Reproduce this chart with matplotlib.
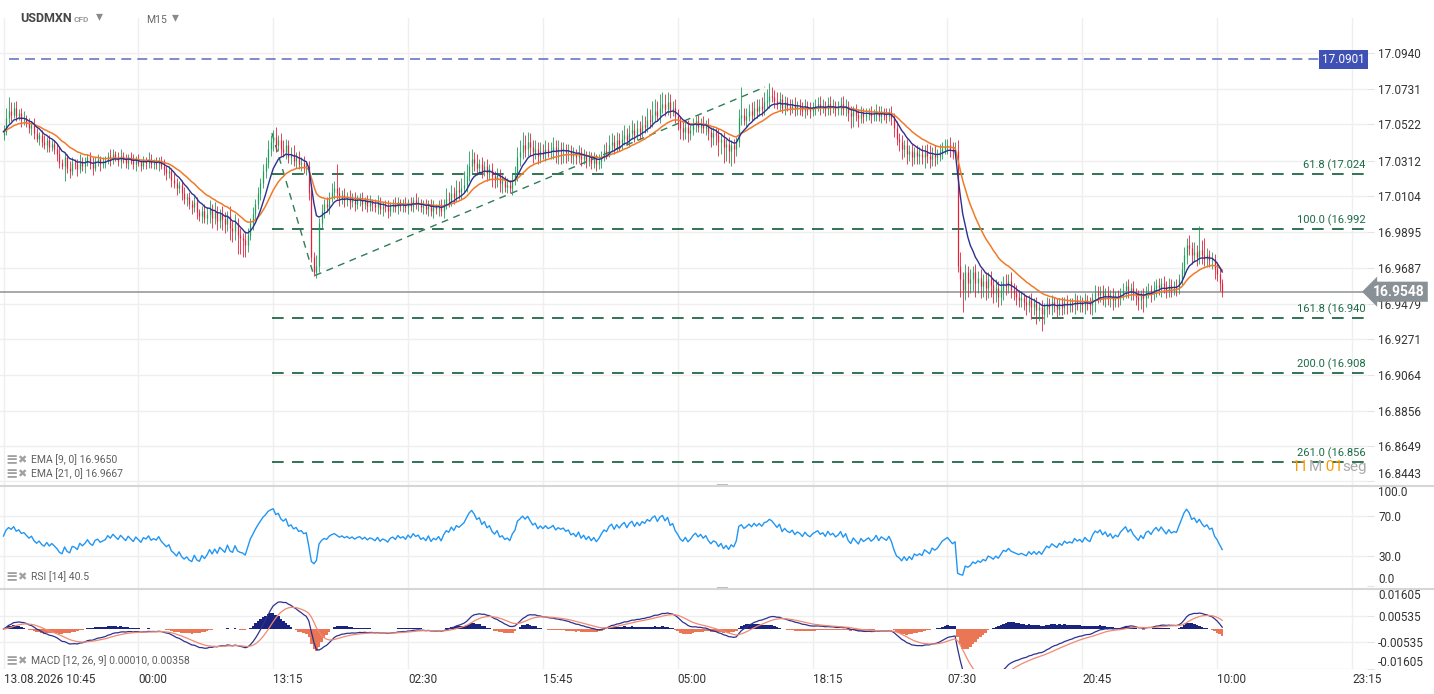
import numpy as np
import pandas as pd
import matplotlib
matplotlib.use('Agg')
import matplotlib.pyplot as plt
from matplotlib.lines import Line2D
from matplotlib.patches import Rectangle
from matplotlib.offsetbox import TextArea, HPacker, AnnotationBbox
from matplotlib.transforms import blended_transform_factory

plt.rcParams['font.family'] = ['Roboto', 'DejaVu Sans']

# USDMXN M15 candles, stored as pips (0.0001) above BASE
BASE = 16.9
close_pips = [
    1480, 1560, 1600, 1580, 1620, 1570, 1590, 1550, 1560, 1530, 1500, 1520, 1470, 1440, 1460, 1420, 1400, 1430, 1390, 1410,
    1380, 1350, 1300, 1280, 1330, 1270, 1250, 1300, 1290, 1260, 1310, 1280, 1300, 1330, 1290, 1270, 1310, 1320, 1290, 1300,
    1310, 1340, 1320, 1350, 1330, 1310, 1340, 1320, 1300, 1330, 1310, 1290, 1320, 1300, 1280, 1310, 1300, 1320, 1290, 1300,
    1290, 1310, 1280, 1260, 1240, 1250, 1200, 1180, 1150, 1170, 1120, 1090, 1100, 1060, 1040, 1070, 1010, 990, 1020, 980,
    1000, 1030, 980, 1010, 960, 1000, 970, 940, 990, 920, 900, 950, 880, 860, 850, 820, 880, 950, 1000, 1060,
    1120, 1180, 1250, 1300, 1380, 1420, 1450, 1400, 1430, 1380, 1360, 1400, 1330, 1350, 1310, 1330, 1290, 1300, 1270, 1280,
    1120, 750, 660, 700, 950, 1020, 1060, 1040, 1100, 1130, 1150, 1120, 1090, 1110, 1080, 1100, 1070, 1090, 1060, 1080,
    1090, 1060, 1080, 1050, 1070, 1060, 1040, 1070, 1030, 1050, 1040, 1020, 1050, 1060, 1040, 1070, 1050, 1060, 1040, 1070,
    1050, 1080, 1060, 1070, 1040, 1050, 1030, 1060, 1020, 1040, 1030, 1050, 1020, 1060, 1090, 1080, 1120, 1100, 1140, 1130,
    1150, 1170, 1220, 1280, 1320, 1300, 1270, 1290, 1250, 1280, 1240, 1260, 1220, 1200, 1230, 1180, 1190, 1160, 1170, 1150,
    1200, 1230, 1330, 1360, 1400, 1380, 1420, 1390, 1360, 1380, 1340, 1370, 1350, 1380, 1360, 1370, 1390, 1360, 1380, 1370,
    1380, 1360, 1370, 1340, 1350, 1330, 1360, 1320, 1340, 1310, 1330, 1300, 1320, 1290, 1310, 1340, 1370, 1360, 1400, 1420,
    1390, 1430, 1410, 1440, 1460, 1430, 1470, 1490, 1460, 1500, 1480, 1520, 1510, 1550, 1540, 1580, 1600, 1570, 1620, 1640,
    1610, 1650, 1600, 1620, 1570, 1540, 1500, 1480, 1510, 1470, 1490, 1520, 1540, 1510, 1530, 1500, 1520, 1480, 1450, 1470,
    1460, 1420, 1440, 1390, 1410, 1370, 1400, 1380, 1420, 1560, 1580, 1550, 1570, 1600, 1580, 1620, 1600, 1630, 1610, 1650,
    1660, 1690, 1680, 1660, 1640, 1670, 1620, 1650, 1630, 1620, 1640, 1610, 1630, 1620, 1600, 1630, 1610, 1600, 1620, 1630,
    1640, 1620, 1630, 1610, 1640, 1620, 1630, 1610, 1620, 1640, 1610, 1630, 1590, 1570, 1600, 1580, 1560, 1590, 1570, 1580,
    1590, 1570, 1580, 1600, 1570, 1590, 1580, 1570, 1590, 1560, 1500, 1440, 1420, 1380, 1400, 1350, 1370, 1330, 1360, 1340,
    1350, 1330, 1360, 1340, 1320, 1350, 1330, 1340, 1360, 1380, 1390, 1400, 1380, 1360, 1370, 700, 620, 560, 660, 600,
    620, 660, 600, 630, 580, 610, 570, 620, 590, 540, 570, 520, 560, 600, 580, 610, 560, 540, 520, 500,
    510, 490, 470, 500, 460, 480, 440, 460, 420, 450, 480, 460, 490, 470, 450, 480, 460, 490, 470, 480,
    470, 500, 480, 490, 470, 500, 480, 470, 510, 540, 530, 550, 520, 540, 510, 530, 500, 520, 510, 540,
    560, 580, 550, 570, 540, 520, 500, 530, 510, 550, 560, 540, 570, 590, 570, 600, 580, 560, 590, 570,
    580, 575, 620, 680, 760, 820, 800, 760, 780, 750, 790, 760, 740, 760, 730, 740, 680, 650, 600, 548,
]
up_wick = [
    40, 60, 80, 50, 30, 40, 20, 30, 40, 20, 30, 20, 40, 30, 20, 30, 40, 20, 30, 20,
    20, 30, 40, 20, 30, 20, 40, 30, 20, 30, 40, 20, 30, 20, 30, 40, 20, 30, 20, 30,
    30, 20, 40, 30, 20, 30, 40, 20, 30, 20, 30, 40, 20, 30, 20, 30, 20, 40, 30, 20,
    30, 20, 30, 40, 20, 30, 20, 40, 30, 20, 30, 40, 20, 30, 20, 40, 30, 20, 30, 40,
    40, 50, 30, 60, 40, 30, 50, 40, 30, 60, 40, 50, 30, 40, 30, 50, 40, 30, 40, 30,
    40, 30, 40, 30, 50, 40, 40, 60, 30, 40, 50, 40, 30, 40, 50, 30, 40, 30, 40, 30,
    30, 40, 30, 60, 30, 40, 30, 40, 30, 50, 40, 140, 40, 30, 40, 30, 40, 30, 40, 30,
    30, 40, 20, 30, 40, 20, 30, 40, 30, 20, 30, 40, 20, 30, 40, 30, 20, 30, 40, 20,
    30, 20, 40, 30, 20, 30, 40, 20, 30, 40, 20, 30, 40, 30, 60, 40, 50, 40, 60, 50,
    60, 80, 70, 90, 60, 40, 50, 30, 40, 30, 40, 30, 40, 30, 40, 30, 40, 30, 40, 30,
    40, 50, 60, 70, 80, 60, 60, 50, 40, 50, 40, 50, 40, 50, 40, 50, 60, 40, 50, 40,
    40, 30, 40, 30, 40, 30, 40, 30, 40, 30, 40, 30, 40, 30, 40, 30, 40, 50, 60, 50,
    40, 50, 40, 50, 60, 40, 50, 60, 40, 50, 40, 60, 50, 70, 60, 80, 70, 60, 80, 70,
    60, 60, 50, 40, 50, 40, 30, 40, 30, 40, 30, 40, 30, 40, 30, 40, 30, 40, 30, 40,
    30, 40, 30, 40, 30, 40, 30, 40, 30, 50, 160, 40, 50, 40, 50, 40, 50, 40, 50, 60,
    70, 74, 50, 40, 50, 40, 30, 40, 30, 40, 30, 40, 30, 40, 30, 40, 30, 40, 30, 40,
    40, 50, 40, 30, 40, 50, 40, 30, 40, 40, 50, 40, 30, 40, 30, 40, 30, 40, 30, 40,
    30, 40, 30, 40, 30, 40, 30, 40, 30, 40, 30, 40, 30, 40, 30, 40, 30, 40, 30, 40,
    40, 50, 40, 50, 60, 40, 50, 40, 50, 40, 50, 40, 50, 40, 50, 60, 80, 40, 50, 40,
    60, 40, 50, 40, 50, 40, 50, 40, 50, 40, 50, 40, 50, 40, 50, 40, 50, 40, 50, 40,
    40, 30, 40, 30, 40, 30, 40, 30, 40, 30, 40, 30, 40, 30, 40, 30, 40, 30, 40, 30,
    30, 40, 30, 40, 30, 40, 30, 40, 30, 50, 40, 30, 40, 30, 40, 30, 40, 30, 40, 30,
    40, 30, 40, 30, 40, 30, 40, 30, 40, 30, 40, 30, 40, 30, 40, 30, 40, 30, 40, 30,
    30, 40, 30, 40, 50, 40, 60, 40, 60, 40, 140, 60, 100, 40, 30, 40, 30, 40, 30, 20,
]
down_wick = [
    30, 20, 30, 40, 20, 30, 20, 40, 30, 20, 30, 40, 30, 20, 40, 30, 20, 40, 30, 20,
    30, 40, 30, 20, 90, 30, 40, 20, 30, 40, 20, 30, 40, 20, 30, 40, 20, 30, 40, 20,
    30, 20, 40, 30, 20, 30, 40, 20, 30, 40, 20, 30, 40, 20, 30, 20, 40, 30, 20, 30,
    30, 40, 20, 30, 40, 30, 40, 30, 40, 30, 40, 30, 40, 30, 40, 30, 40, 30, 40, 30,
    40, 50, 60, 40, 50, 40, 60, 50, 40, 70, 60, 50, 110, 90, 100, 70, 40, 30, 40, 30,
    30, 40, 30, 40, 30, 40, 50, 40, 30, 40, 30, 40, 30, 40, 30, 40, 30, 40, 30, 40,
    40, 30, 20, 30, 40, 30, 40, 30, 40, 30, 40, 30, 40, 30, 40, 30, 40, 30, 40, 30,
    30, 40, 30, 40, 30, 40, 30, 40, 30, 40, 30, 40, 30, 40, 30, 40, 30, 40, 30, 40,
    30, 40, 30, 40, 30, 40, 30, 40, 30, 40, 30, 40, 30, 40, 30, 40, 30, 40, 30, 40,
    40, 30, 40, 30, 40, 50, 40, 30, 40, 30, 50, 40, 60, 50, 40, 50, 60, 30, 40, 30,
    40, 30, 40, 50, 40, 50, 40, 50, 60, 40, 50, 40, 30, 40, 30, 40, 50, 60, 70, 80,
    70, 60, 50, 40, 50, 40, 30, 40, 30, 40, 30, 40, 30, 40, 30, 40, 30, 40, 30, 40,
    40, 30, 40, 30, 40, 30, 40, 30, 40, 30, 40, 30, 40, 30, 40, 30, 40, 30, 40, 30,
    40, 30, 40, 30, 40, 50, 60, 50, 40, 50, 40, 30, 40, 30, 40, 30, 40, 50, 60, 50,
    60, 80, 70, 90, 80, 70, 90, 80, 40, 30, 40, 30, 40, 30, 40, 30, 40, 30, 40, 30,
    30, 40, 30, 40, 30, 40, 30, 40, 30, 40, 30, 40, 30, 40, 30, 40, 30, 40, 30, 40,
    30, 40, 30, 40, 30, 40, 30, 40, 30, 40, 30, 40, 50, 70, 60, 40, 50, 30, 40, 30,
    30, 40, 30, 40, 30, 40, 30, 40, 30, 40, 50, 40, 50, 60, 50, 60, 40, 50, 40, 50,
    50, 40, 60, 40, 50, 40, 50, 40, 30, 40, 30, 40, 50, 40, 30, 40, 100, 130, 60, 80,
    60, 70, 80, 60, 70, 60, 70, 60, 70, 60, 50, 60, 50, 60, 50, 40, 50, 40, 50, 40,
    40, 50, 60, 40, 70, 50, 80, 60, 100, 60, 50, 40, 50, 40, 50, 40, 50, 40, 50, 40,
    40, 50, 40, 50, 40, 50, 40, 50, 60, 80, 50, 40, 50, 60, 40, 50, 60, 40, 50, 40,
    40, 50, 40, 50, 40, 50, 60, 50, 80, 50, 40, 50, 40, 50, 40, 50, 40, 50, 40, 50,
    40, 50, 40, 30, 40, 50, 40, 50, 40, 50, 40, 50, 40, 50, 40, 50, 60, 40, 50, 30,
]
assert len(close_pips) == len(up_wick) == len(down_wick) == 480

time_labels = ['13.08.2026 10:45', '00:00', '13:15', '02:30', '15:45', '05:00',
               '18:15', '07:30', '20:45', '10:00', '23:15']
bars_per_label = 53  # 13h15 of 15-minute bars

price_ticks = [17.0940, 17.0731, 17.0522, 17.0312, 17.0104, 16.9895, 16.9687,
               16.9479, 16.9271, 16.9064, 16.8856, 16.8649, 16.8443]
rsi_ticks = [100.0, 70.0, 30.0, 0.0]
macd_ticks = [0.01605, 0.00535, -0.00535, -0.01605]

resistance = 17.0901
last_price = 16.9548
fib_levels = [17.0234, 16.9914, 16.9394, 16.9074, 16.8557]
fib_labels = ['61.8 (17.024', '100.0 (16.992', '161.8 (16.940', '200.0 (16.908', '261.0 (16.856']
fib_x = [105.5, 122.0, 299.3]        # bar index of the three drawn points
fib_y = [17.0472, 16.9640, 17.0740]
rsi_seed = 0.0025                    # starting Wilder average move

legend_ema = ['EMA [9, 0] 16.9650', 'EMA [21, 0] 16.9667']
legend_rsi = 'RSI [14] 40.5'
legend_macd = 'MACD [12, 26, 9] 0.00010, 0.00358'

# ---- derived series ----
close = pd.Series(BASE + np.array(close_pips) / 1e4)
opens = close.shift(1).fillna(close[0] - 0.002)
high = np.maximum(opens, close) + np.array(up_wick) / 1e4
low = np.minimum(opens, close) - np.array(down_wick) / 1e4
idx = np.arange(len(close))

ema9 = close.ewm(span=9, adjust=False).mean()
ema21 = close.ewm(span=21, adjust=False).mean()

rsi = []
g = l = rsi_seed
for d in close.diff().fillna(0):
    g = (13 * g + max(d, 0)) / 14
    l = (13 * l + max(-d, 0)) / 14
    rsi.append(100 - 100 / (1 + g / l))

macd = close.ewm(span=12, adjust=False).mean() - close.ewm(span=26, adjust=False).mean()
signal = macd.ewm(span=9, adjust=False).mean()
hist = macd - signal

# ---- figure layout (pixel based) ----
W, H = 1434, 694
fig = plt.figure(figsize=(W / 100, H / 100), dpi=100, facecolor='white')


def px_axes(x0, y0, x1, y1, **kw):
    return fig.add_axes([x0 / W, 1 - y1 / H, (x1 - x0) / W, (y1 - y0) / H], **kw)


ax_p = px_axes(0, 18, 1367, 485)
ax_r = px_axes(0, 486, 1367, 588, sharex=ax_p)
ax_m = px_axes(0, 589, 1367, 669, sharex=ax_p)

px_per_bar = 2.5443
x_left = -3.5 / px_per_bar
x_right = (1367 - 3.5) / px_per_bar
tick_pos = [k * bars_per_label for k in range(len(time_labels))]

grid_c = '#efefef'
txt_c = '#333333'
for ax in (ax_p, ax_r, ax_m):
    for s in ax.spines.values():
        s.set_visible(False)
    ax.set_xlim(x_left, x_right)
    ax.yaxis.tick_right()
    ax.tick_params(axis='y', length=5, color='#e4e4e4', pad=3, labelsize=8.5, labelcolor=txt_c)
    for t in tick_pos:
        ax.axvline(t, color=grid_c, lw=1, zorder=0)

# ---- price panel ----
ax_p.set_ylim(16.84223, 17.11421)
ax_p.set_yticks(price_ticks)
ax_p.set_yticklabels([f'{v:.4f}' for v in price_ticks])
ax_p.get_yticklabels()[-1].set_va('bottom')
for v in price_ticks:
    ax_p.axhline(v, color=grid_c, lw=1, zorder=0)
ax_p.tick_params(axis='x', length=0, labelbottom=False)

up = (close >= opens).values
cols = np.where(up, '#1f9d5a', '#e3213b')
ax_p.vlines(idx, low, high, colors=cols, lw=0.6, zorder=3)
ax_p.vlines(idx, np.minimum(opens, close), np.maximum(opens, close), colors=cols, lw=0.9, zorder=3)
ax_p.plot(idx, ema21, color='#f07a2a', lw=1.1, zorder=4)
ax_p.plot(idx, ema9, color='#2c3190', lw=1.0, zorder=5)

ax_p.plot([2, 517], [resistance] * 2, color='#5c6bc0', lw=1.1, ls=(0, (6.5, 4)), zorder=2)
for lvl, lab in zip(fib_levels, fib_labels):
    ax_p.plot([fib_x[0], x_right], [lvl] * 2, color='#0f5b38', lw=1.2, ls=(0, (7, 5)), zorder=2)
    ax_p.annotate(lab, xy=(x_right, lvl), xytext=(-1, 2), textcoords='offset points',
                  ha='right', va='bottom', fontsize=8, color='#1a6a46', zorder=6)
ax_p.plot(fib_x, fib_y, color='#2f7d57', lw=1, ls=(0, (5, 4)), zorder=2)
ax_p.axhline(last_price, color='#8d9296', lw=1.1, zorder=2)

bt = blended_transform_factory(ax_p.transAxes, ax_p.transData)
ax_p.text(1 - 2 / 1367, resistance, '17.0901', transform=bt, ha='right', va='center',
          fontsize=8.5, color='white', zorder=7,
          bbox=dict(boxstyle='square,pad=0.25', fc='#3f51b5', ec='none'))
ax_p.text(1 + 6 / 1367, last_price, '16.9548', transform=bt, ha='left', va='center',
          fontsize=10, fontweight='bold', color='white', zorder=7, clip_on=False,
          bbox=dict(boxstyle='larrow,pad=0.22', fc='#8a9196', ec='none'))

countdown = HPacker(children=[
    TextArea('11', textprops=dict(color='#ff9800', size=11)),
    TextArea('M', textprops=dict(color='#aaaaaa', size=11)),
    TextArea(' 01', textprops=dict(color='#ff9800', size=11)),
    TextArea('seg', textprops=dict(color='#aaaaaa', size=11)),
], sep=0, pad=0)
ax_p.add_artist(AnnotationBbox(countdown, (x_right, 16.8527), box_alignment=(1, 0.5),
                               frameon=False, pad=0, zorder=7))

# ---- RSI panel ----
ax_r.set_ylim(-2, 100)
ax_r.set_yticks(rsi_ticks)
ax_r.set_yticklabels([f'{v:.1f}' for v in rsi_ticks])
for v in (70, 30):
    ax_r.axhline(v, color=grid_c, lw=1, zorder=0)
ax_r.tick_params(axis='x', length=0, labelbottom=False)
ax_r.plot(idx, rsi, color='#2196f3', lw=1.0)

# ---- MACD panel ----
ax_m.set_ylim(-0.01605, 0.01605)
ax_m.set_yticks(macd_ticks)
ax_m.set_yticklabels([f'{v:.5f}' for v in macd_ticks])
for v in macd_ticks[1:]:
    ax_m.axhline(v, color=grid_c, lw=1, zorder=0)
ax_m.bar(idx, hist, width=1.0, color=np.where(hist >= 0, '#1a237e', '#ea7656'), lw=0, zorder=2)
ax_m.plot(idx, macd, color='#2c3190', lw=0.9, zorder=3)
ax_m.plot(idx, signal, color='#f08a70', lw=0.9, zorder=3)
ax_m.set_xticks(tick_pos)
ax_m.set_xticklabels(time_labels, ha='left')
ax_m.tick_params(axis='x', length=0, pad=3, labelsize=8.5, labelcolor=txt_c)

for ax in (ax_r, ax_m):
    labs = ax.get_yticklabels()
    labs[0].set_va('top')
    labs[-1].set_va('bottom')

# ---- separators, handles, header, legends ----
for y in (485.5, 588.5):
    fig.add_artist(Line2D([0, 1], [1 - y / H] * 2, color='#d6d6d6', lw=1.5))
    fig.add_artist(Rectangle((717 / W, 1 - (y + 1.5) / H), 11 / W, 3 / H, color='#bdbdbd', lw=0))


def ftext(x, y, s, **kw):
    fig.text(x / W, 1 - y / H, s, va='center', **kw)


ftext(20, 18, 'USDMXN', fontsize=9, fontweight='bold', color='#454545')
ftext(74, 19, 'CFD', fontsize=6, fontweight='bold', color='#9a9a9a')
ftext(96, 16, '▾', fontsize=10, color='#8a8a8a')
ftext(146, 20, 'M15', fontsize=7.5, color='#666666')
ftext(172, 17, '▾', fontsize=10, color='#8a8a8a')

for y, s in [(460, legend_ema[0]), (474, legend_ema[1]), (577, legend_rsi), (661, legend_macd)]:
    ftext(5, y, '≡', fontsize=10.5, fontweight='bold', color='#a0a0a0')
    ftext(17, y, '✖', fontsize=8, color='#a0a0a0')
    ftext(31, y, s, fontsize=7.5, color='#5f5f5f')

fig.savefig('out.png', dpi=100, facecolor='white')
